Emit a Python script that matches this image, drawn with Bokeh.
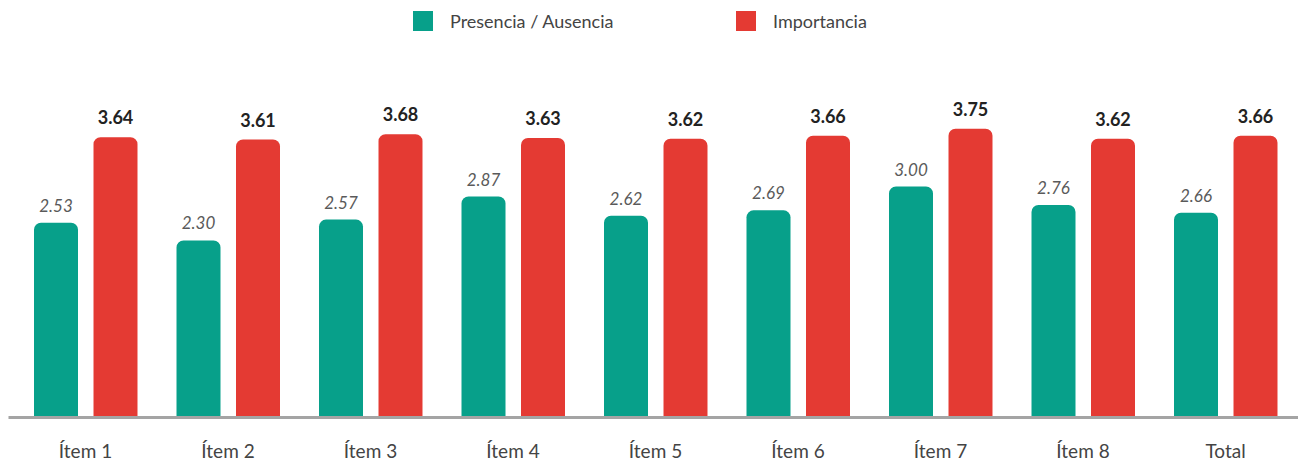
import numpy as np
from bokeh.plotting import figure
from bokeh.models import ColumnDataSource, Range1d, FixedTicker, Legend, LegendItem
from bokeh.embed import file_html
from bokeh.resources import INLINE

categories = ["Ítem 1", "Ítem 2", "Ítem 3", "Ítem 4", "Ítem 5", "Ítem 6", "Ítem 7", "Ítem 8", "Total"]
presencia = [2.53, 2.30, 2.57, 2.87, 2.62, 2.69, 3.00, 2.76, 2.66]
importancia = [3.64, 3.61, 3.68, 3.63, 3.62, 3.66, 3.75, 3.62, 3.66]
series_names = ["Presencia / Ausencia", "Importancia"]

GREEN = "#07a08a"
RED = "#e43a33"
FONT = "Lato"

idx = np.arange(len(categories))
px = 142.5  # pixels per category
off_g = -29.5 / px
off_r = 30.0 / px
bw = 44.0 / px

src_g = ColumnDataSource(dict(x=idx + off_g, top=presencia,
                              lab=[f"{v:.2f}" for v in presencia]))
src_r = ColumnDataSource(dict(x=idx + off_r, top=importancia,
                              lab=[f"{v:.2f}" for v in importancia]))

W, H = 1298, 465
left, bottom_b = 8, 48
frame_h = H - bottom_b
start = -(85 - left) / px
end = start + (W - left) / px

p = figure(width=W, height=H, output_backend="svg", toolbar_location=None,
           x_range=Range1d(start, end), y_range=Range1d(0, frame_h / 77.0),
           min_border_left=left, min_border_right=0, min_border_top=0,
           min_border_bottom=bottom_b, outline_line_color=None)

rg = p.vbar(x="x", top="top", width=bw, source=src_g, fill_color=GREEN,
            line_color=None, border_radius=(7, 7, 0, 0))
rr = p.vbar(x="x", top="top", width=bw, source=src_r, fill_color=RED,
            line_color=None, border_radius=(7, 7, 0, 0))

p.text(x="x", y="top", text="lab", source=src_g, text_align="center",
       text_baseline="bottom", y_offset=-11, text_font_size="17px",
       text_font_style="italic", text_color="#5a5a5a", text_font={"value": FONT})
p.text(x="x", y="top", text="lab", source=src_r, text_align="center",
       text_baseline="bottom", y_offset=-13, text_font_size="18px",
       text_font_style="bold", text_color="#222222", text_font={"value": FONT})

p.yaxis.visible = False
p.xgrid.visible = False
p.ygrid.visible = False

ax = p.xaxis[0]
ax.ticker = FixedTicker(ticks=list(idx))
ax.major_label_overrides = {int(i): c for i, c in zip(idx, categories)}
ax.major_tick_line_color = None
ax.minor_tick_line_color = None
ax.axis_line_color = "#a4a4a4"
ax.axis_line_width = 3
ax.major_label_standoff = 15
ax.major_label_text_font = FONT
ax.major_label_text_font_size = "19px"
ax.major_label_text_color = "#444444"

legend = Legend(items=[LegendItem(label=series_names[0], renderers=[rg]),
                       LegendItem(label=series_names[1], renderers=[rr])],
                orientation="horizontal", location=(402, frame_h - 33),
                glyph_width=25, glyph_height=25, label_standoff=15,
                label_width=250, spacing=33, padding=0, margin=0,
                border_line_alpha=0, background_fill_alpha=0,
                label_text_font=FONT, label_text_font_size="18px",
                label_text_color="#444444")
p.add_layout(legend, "center")

open("out.html", "w").write(file_html(p, INLINE))
